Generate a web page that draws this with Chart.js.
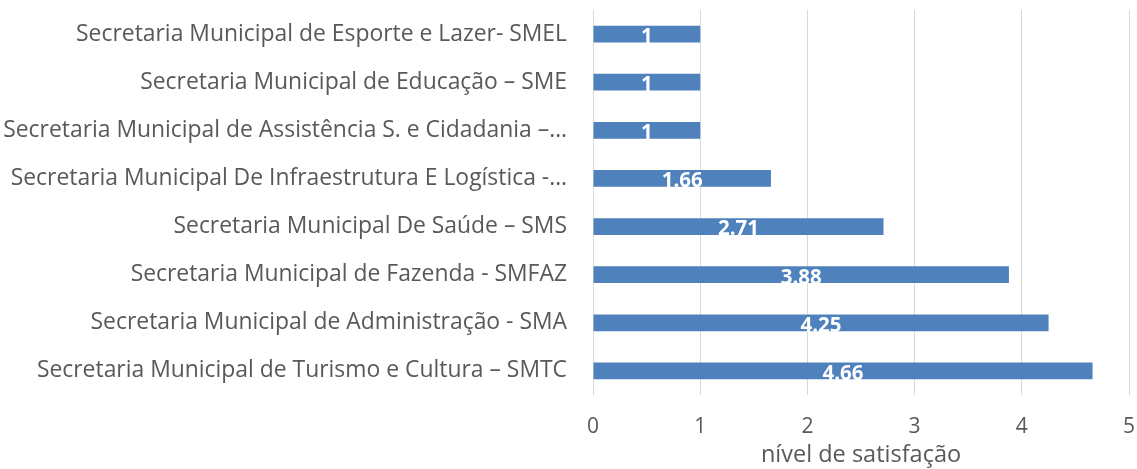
<!DOCTYPE html>
<html>
<head>
<meta charset="utf-8">
<script src="https://cdn.jsdelivr.net/npm/chart.js@4/dist/chart.umd.min.js"></script>
<style>
  html,body{margin:0;padding:0;background:#fff;}
  #wrap{width:1137px;height:469px;}
</style>
</head>
<body>
<div id="wrap"><canvas id="chart" width="1137" height="469"></canvas></div>
<script>
const secretarias = [
  'Secretaria Municipal de Esporte e Lazer- SMEL',
  'Secretaria Municipal de Educação – SME',
  'Secretaria Municipal de Assistência S. e Cidadania –…',
  'Secretaria Municipal De Infraestrutura E Logística -…',
  'Secretaria Municipal De Saúde – SMS',
  'Secretaria Municipal de Fazenda - SMFAZ',
  'Secretaria Municipal de Administração - SMA',
  'Secretaria Municipal de Turismo e Cultura – SMTC'
];
const satisfacao = [1, 1, 1, 1.66, 2.71, 3.88, 4.25, 4.66];
const eixoX = [0, 1, 2, 3, 4, 5];

const FONT = '"Open Sans", Lato, sans-serif';
const GREY = '#595959';

// white value labels centred inside each bar
const valueLabels = {
  id: 'valueLabels',
  afterDatasetsDraw(chart){
    const ctx = chart.ctx;
    const meta = chart.getDatasetMeta(0);
    ctx.save();
    ctx.fillStyle = '#ffffff';
    ctx.font = 'bold 20.5px ' + FONT;
    ctx.textAlign = 'center';
    ctx.textBaseline = 'middle';
    meta.data.forEach((bar, i) => {
      const cx = (bar.x + bar.base) / 2;
      ctx.fillText(String(satisfacao[i]), cx, bar.y + 3);
    });
    ctx.restore();
  }
};

// keep the axes from reserving extra room around the plot
function noPadding(scale){
  scale.paddingTop = 0; scale.paddingBottom = 0;
  scale.paddingLeft = 0; scale.paddingRight = 0;
}

new Chart(document.getElementById('chart'), {
  type: 'bar',
  data: {
    labels: secretarias,
    datasets: [{
      data: satisfacao,
      backgroundColor: '#4f81bd',
      borderWidth: 0,
      barPercentage: 0.7,
      categoryPercentage: 0.5
    }]
  },
  plugins: [valueLabels],
  options: {
    indexAxis: 'y',
    responsive: false,
    animation: false,
    layout: { padding: { top: 10, right: 8, bottom: 0, left: 0 } },
    plugins: { legend: { display: false }, tooltip: { enabled: false } },
    scales: {
      x: {
        min: eixoX[0],
        max: eixoX[eixoX.length - 1],
        afterBuildTicks(scale){ scale.ticks = eixoX.map(v => ({ value: v })); },
        afterFit(scale){ scale.height = 74; noPadding(scale); },
        grid: { color: '#d9d9d9', lineWidth: 1, drawTicks: false },
        border: { display: false },
        ticks: { color: GREY, font: { family: FONT, size: 21 }, padding: 19 },
        title: {
          display: true,
          text: 'nível de satisfação',
          color: GREY,
          font: { family: FONT, size: 23.5 },
          padding: { top: 0, bottom: 0 }
        }
      },
      y: {
        afterFit(scale){ scale.width = 593; noPadding(scale); },
        grid: { display: false, drawTicks: false },
        border: { display: false },
        ticks: { color: GREY, font: { family: FONT, size: 22.9 }, padding: 26 }
      }
    }
  }
});
</script>
</body>
</html>
